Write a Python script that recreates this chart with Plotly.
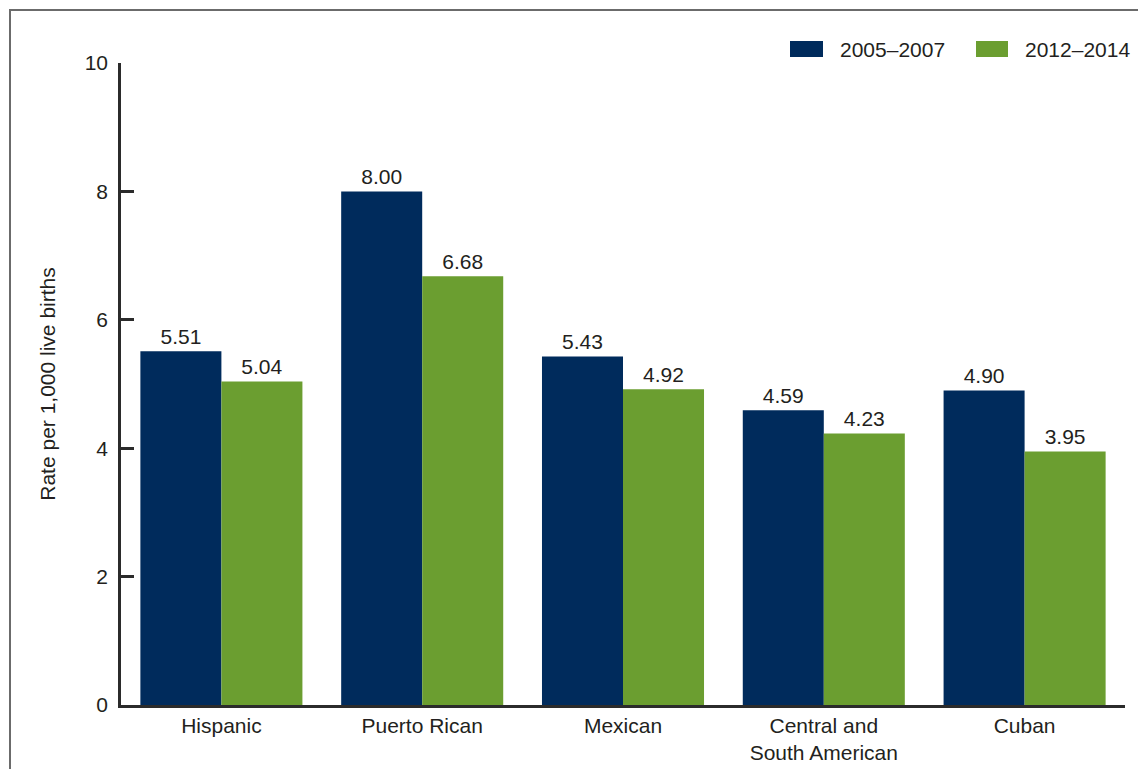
import plotly.graph_objects as go

categories = ["Hispanic", "Puerto Rican", "Mexican", "Central and<br>South American", "Cuban"]
series_names = ["2005–2007", "2012–2014"]
values_2005_2007 = [5.51, 8.00, 5.43, 4.59, 4.90]
values_2012_2014 = [5.04, 6.68, 4.92, 4.23, 3.95]
y_ticks = [0, 2, 4, 6, 8, 10]

BLUE = "#002B5C"
GREEN = "#6B9E30"
TEXT = "#231F20"
FONT = "Liberation Sans, Arial, sans-serif"
FS = 21

# page has an 8px body margin; size the figure to fit the viewport
OFF = 8
W, H = 1146 - OFF, 769 - OFF
ML, MR, MT, MB = 121 - OFF, 21, 63 - OFF, 64
PW, PH = W - ML - MR, H - MT - MB

def px_x(p):
    return (p - OFF - ML) / PW

def px_y(p):
    return (H - MB - (p - OFF)) / PH

fig = go.Figure()
for name, vals, col in [(series_names[0], values_2005_2007, BLUE),
                        (series_names[1], values_2012_2014, GREEN)]:
    fig.add_trace(go.Bar(
        x=categories, y=vals, name=name,
        marker=dict(color=col, line=dict(width=0)),
        text=[f"{v:.2f}" for v in vals],
        textposition="outside",
        textfont=dict(size=FS, color=TEXT, family=FONT),
        cliponaxis=False,
        showlegend=False,
    ))

# custom legend (wide swatches as in reference)
legend_items = [(series_names[0], BLUE, 790, 823, 838),
                (series_names[1], GREEN, 976, 1008, 1023)]
shapes = []
annotations = []
for name, col, x0, x1, tx in legend_items:
    shapes.append(dict(type="rect", xref="paper", yref="paper",
                       x0=px_x(x0), x1=px_x(x1), y0=px_y(57), y1=px_y(41),
                       fillcolor=col, line=dict(width=0)))
    annotations.append(dict(xref="paper", yref="paper", x=px_x(tx), y=px_y(49),
                            xanchor="left", yanchor="middle", showarrow=False,
                            text=name, font=dict(size=FS, color=TEXT, family=FONT)))

# outer frame
shapes.append(dict(type="rect", xref="paper", yref="paper",
                   x0=px_x(10), x1=px_x(1300), y0=px_y(900), y1=px_y(10),
                   line=dict(color="#6B6B6B", width=2), fillcolor="rgba(0,0,0,0)",
                   layer="below"))

fig.update_layout(
    width=W, height=H,
    margin=dict(l=ML, r=MR, t=MT, b=MB, autoexpand=False),
    paper_bgcolor="white", plot_bgcolor="white",
    barmode="group", bargap=0.193, bargroupgap=0,
    font=dict(family=FONT, size=FS, color=TEXT),
    shapes=shapes, annotations=annotations,
    xaxis=dict(showline=True, linecolor="#2B2B2B", linewidth=2.5,
               ticks="", showgrid=False, zeroline=False,
               tickfont=dict(size=FS, color=TEXT, family=FONT)),
    yaxis=dict(range=[0, 10], tickvals=y_ticks, showline=True,
               linecolor="#2B2B2B", linewidth=2.5, ticks="inside", ticklen=13,
               tickwidth=2.5, tickcolor="#2B2B2B", showgrid=False, zeroline=False,
               ticklabelstandoff=6,
               tickfont=dict(size=FS, color=TEXT, family=FONT),
               title=dict(text="Rate per 1,000 live births", standoff=24,
                          font=dict(size=FS, color=TEXT, family=FONT))),
)

fig.write_html("out.html")
